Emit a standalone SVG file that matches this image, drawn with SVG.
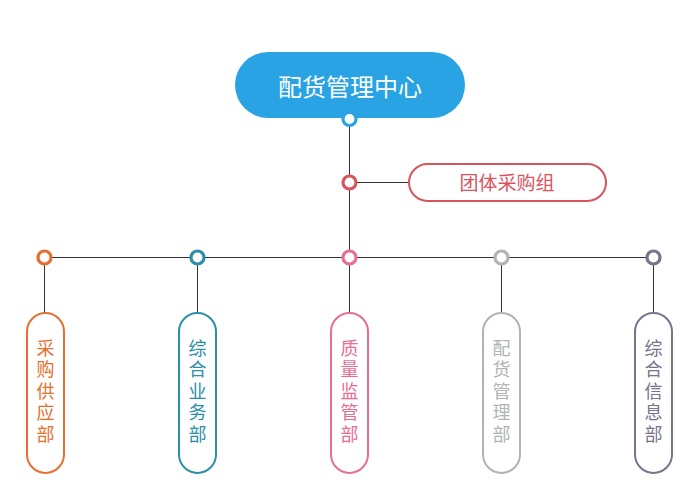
<svg xmlns="http://www.w3.org/2000/svg" width="700" height="500" viewBox="0 0 700 500">
<style>
text{font-family:"Noto Sans CJK SC","Noto Sans",sans-serif;text-anchor:middle}
.ln{stroke:#333;stroke-width:1;fill:none}
.dot{fill:#fff;stroke-width:3.2}
.pill{fill:#fff;stroke-width:2}
.v{font-size:18px}
</style>
<rect width="700" height="500" fill="#fff"/>
<g id="connectors">
<line class="ln" x1="349.5" y1="119" x2="349.5" y2="257"/>
<line class="ln" x1="349" y1="182.5" x2="409" y2="182.5"/>
<line class="ln" x1="44" y1="257.5" x2="653" y2="257.5"/>
<line class="ln" x1="44.5" y1="257" x2="44.5" y2="313"/>
<line class="ln" x1="197.5" y1="257" x2="197.5" y2="313"/>
<line class="ln" x1="349.5" y1="257" x2="349.5" y2="313"/>
<line class="ln" x1="501.5" y1="257" x2="501.5" y2="313"/>
<line class="ln" x1="653.5" y1="257" x2="653.5" y2="313"/>
</g>
<g id="center">
<rect x="235" y="52" width="230" height="66" rx="33" fill="#29a3e3"/>
<text x="350" y="95.5" font-size="24" fill="#fff">配货管理中心</text>
<circle class="dot" cx="349.5" cy="119" r="6.5" stroke="#29a3e3"/>
</g>
<g id="group">
<circle class="dot" cx="349.5" cy="182.5" r="6.5" stroke="#d8545f"/>
<rect class="pill" x="409" y="164" width="197" height="37" rx="18.5" stroke="#d8545f"/>
<text x="507" y="189.5" font-size="19" fill="#d8545f">团体采购组</text>
</g>
<g id="dept1">
<circle class="dot" cx="44.5" cy="257.5" r="6.5" stroke="#e5702e"/>
<rect class="pill" x="27" y="313" width="37" height="160" rx="18.5" stroke="#e5702e"/>
<text class="v" fill="#e5702e"><tspan x="45.5" y="354.5">采</tspan><tspan x="45.5" y="376">购</tspan><tspan x="45.5" y="397.5">供</tspan><tspan x="45.5" y="419">应</tspan><tspan x="45.5" y="440.5">部</tspan></text>
</g>
<g id="dept2">
<circle class="dot" cx="197.5" cy="257.5" r="6.5" stroke="#2b8fa8"/>
<rect class="pill" x="179" y="313" width="37" height="160" rx="18.5" stroke="#2b8fa8"/>
<text class="v" fill="#2b8fa8"><tspan x="197.5" y="354.5">综</tspan><tspan x="197.5" y="376">合</tspan><tspan x="197.5" y="397.5">业</tspan><tspan x="197.5" y="419">务</tspan><tspan x="197.5" y="440.5">部</tspan></text>
</g>
<g id="dept3">
<circle class="dot" cx="349.5" cy="257.5" r="6.5" stroke="#e86d94"/>
<rect class="pill" x="331" y="313" width="37" height="160" rx="18.5" stroke="#e86d94"/>
<text class="v" fill="#e86d94"><tspan x="349.5" y="354.5">质</tspan><tspan x="349.5" y="376">量</tspan><tspan x="349.5" y="397.5">监</tspan><tspan x="349.5" y="419">管</tspan><tspan x="349.5" y="440.5">部</tspan></text>
</g>
<g id="dept4">
<circle class="dot" cx="501.5" cy="257.5" r="6.5" stroke="#b0b4b3"/>
<rect class="pill" x="483" y="313" width="37" height="160" rx="18.5" stroke="#b0b4b3"/>
<text class="v" fill="#b0b4b3"><tspan x="501.5" y="354.5">配</tspan><tspan x="501.5" y="376">货</tspan><tspan x="501.5" y="397.5">管</tspan><tspan x="501.5" y="419">理</tspan><tspan x="501.5" y="440.5">部</tspan></text>
</g>
<g id="dept5">
<circle class="dot" cx="653.5" cy="257.5" r="6.5" stroke="#77748c"/>
<rect class="pill" x="635" y="313" width="37" height="160" rx="18.5" stroke="#77748c"/>
<text class="v" fill="#77748c"><tspan x="653.5" y="354.5">综</tspan><tspan x="653.5" y="376">合</tspan><tspan x="653.5" y="397.5">信</tspan><tspan x="653.5" y="419">息</tspan><tspan x="653.5" y="440.5">部</tspan></text>
</g>
</svg>
